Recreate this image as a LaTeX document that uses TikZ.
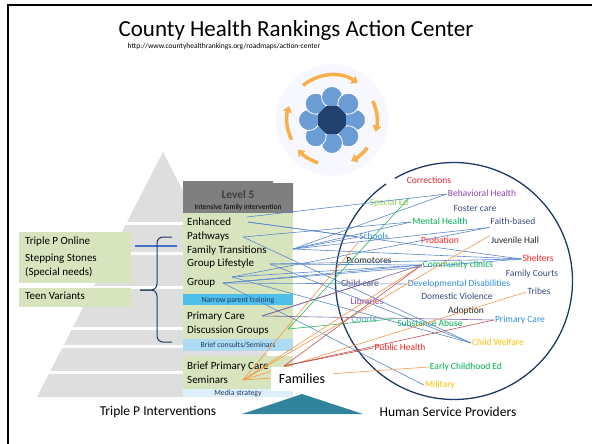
\documentclass[tikz,border=0pt]{standalone}
\usepackage{fontspec}
\setmainfont{Carlito}
\usetikzlibrary{arrows.meta}

\definecolor{lvlgreen}{HTML}{D7E4BD}
\definecolor{hdgrey}{HTML}{7F7F7F}
\definecolor{pyrgrey}{HTML}{DEDEDE}
\definecolor{narrowblue}{HTML}{4FBFEA}
\definecolor{briefblue}{HTML}{ADDCF2}
\definecolor{mediablue}{HTML}{DDEFF8}
\definecolor{navy}{HTML}{1F3864}
\definecolor{brblue}{HTML}{4472C4}
\definecolor{fteal}{HTML}{31849B}
\definecolor{lnblue}{HTML}{5B87CB}
\definecolor{lnpurple}{HTML}{8064A2}
\definecolor{lngreen}{HTML}{2DBA5A}
\definecolor{lnorange}{HTML}{F79646}
\definecolor{lnred}{HTML}{C0504D}
\definecolor{cred}{HTML}{FF1F1F}
\definecolor{cdred}{HTML}{E0262B}
\definecolor{cpurple}{HTML}{8E44AD}
\definecolor{clgreen}{HTML}{92D050}
\definecolor{cgreen}{HTML}{00B050}
\definecolor{cslate}{HTML}{3B4B7B}
\definecolor{cblue}{HTML}{2F8FD8}
\definecolor{cdark}{HTML}{262626}
\definecolor{cplum}{HTML}{5E4B6E}
\definecolor{cteal}{HTML}{4BACC6}
\definecolor{cgold}{HTML}{FFC000}
\definecolor{acorange}{HTML}{F7B04A}
\definecolor{acblue}{HTML}{6C9CD4}
\definecolor{acdark}{HTML}{22406E}

\begin{document}
\begin{tikzpicture}[x=1pt,y=-1pt,
  prov/.style={font=\fontsize{9.5}{10}\selectfont, inner sep=1pt, text height=6.5pt, text depth=2pt},
  lvl/.style={font=\fontsize{11}{12}\selectfont, anchor=west, inner sep=0pt, text height=7.5pt, text depth=2.5pt},
  small/.style={font=\fontsize{7.8}{8}\selectfont, text=navy, inner sep=0pt},
  link/.style={line width=0.6pt}]
  \useasboundingbox (0,0) rectangle (592,444);
  \newcommand{\acx}{332}
  \newcommand{\acy}{120}

  \draw[line width=2.5pt] (8,446) -- (8,5) -- (594,5);

  \node (title) at (296,30) {\fontsize{23}{24}\selectfont County Health Rankings Action Center};
  \node (url) at (224,47) {\fontsize{7.5}{8}\selectfont http://www.countyhealthrankings.org/roadmaps/action-center};

  % action center graphic
  \fill[blue!3] (\acx,\acy) circle (56);
  \foreach \a/\b in {-130/-55, -25/15, 38/65, 108/139, -206/-162}
    \draw[acorange, line width=3.5pt, -{Triangle[length=6pt,width=9pt]}]
      ([shift={(\a:45)}]\acx,\acy) arc (\a:\b:45);
  \foreach \a in {0,45,...,315}
    \fill[acblue, draw=white, line width=0.8pt] ([shift={(\a:23)}]\acx,\acy) circle (10.5);
  \fill[acdark] ([shift={(22.5:15)}]\acx,\acy)
    \foreach \a in {67.5,112.5,...,337.5} { -- ([shift={(\a:15)}]\acx,\acy) } -- cycle;

  % pyramid
  \fill[pyrgrey] (163,152) -- (289,397) -- (37,397) -- cycle;
  \foreach \y in {222,252,286,327,345,371}
    \fill[white] (30,\y) rectangle (295,\y+3);

  % left boxes and brace
  \fill[lvlgreen] (19,232) rectangle (131,283);
  \fill[lvlgreen] (19,288) rectangle (131,307);
  \node[lvl] (tpo) at (25,242) {Triple P Online};
  \node[lvl] (ss) at (25,259) {Stepping Stones};
  \node[lvl] (sn) at (25,273) {(Special needs)};
  \node[lvl] (teen) at (25,297) {Teen Variants};
  \coordinate (br-in) at (135,246);
  \coordinate (br-out) at (177,246);
  \draw[brblue, line width=1.2pt] (br-in) -- (br-out);
  \draw[navy, line width=1pt, rounded corners=6pt] (172,237) -- (157,237) -- (157,290) -- (140,290);
  \draw[navy, line width=1pt, rounded corners=6pt] (140,290) -- (157,290) -- (157,342) -- (172,342);

  % level column
  \fill[hdgrey] (183,181) -- (273,181) -- (273,183) -- (293,183) -- (293,213) -- (183,213) -- cycle;
  \node[font=\bfseries\fontsize{11.5}{12}\selectfont, text=black!75] (lvl5) at (238,195) {Level 5};
  \node[small, text=black, font=\fontsize{7.5}{8}\selectfont] (ifi) at (238,207) {Intensive family intervention};
  \fill[lvlgreen] (183,213) rectangle (293,294);
  \fill[narrowblue] (183,294) rectangle (293,305);
  \fill[lvlgreen] (183,305) rectangle (293,339);
  \fill[briefblue] (183,339) rectangle (293,351);
  \fill[mediablue] (183,389) rectangle (293,397);
  \node[small] (media) at (238,393) {Media strategy};
  \fill[lvlgreen] (183,356) rectangle (293,389);
  \node[small] (npt) at (238,300) {Narrow parent training};
  \node[small] (bcs) at (238,345) {Brief consults/Seminars};
  \foreach \n/\y/\t in {enh/223/Enhanced, path/237/Pathways, famt/251/Family Transitions,
      life/264/Group Lifestyle, grp/283/Group, pcare/317/Primary Care,
      disc/331/Discussion Groups, bpc/367/Brief Primary Care, sem/381/Seminars}
    \node[lvl] (l-\n) at (187,\y) {\t};

  % providers
  \draw[navy, line width=1.3pt] ([shift={(-125:118.5)}]454,281) arc (-125:-480:118.5);
  \foreach \n/\x/\y/\c/\t in {
      corr/429/181/cdred/Corrections, bh/482/194/cpurple/Behavioral Health,
      spec/389/203/clgreen/Special Ed, fost/475/209/cslate/Foster care,
      mh/440/222/cgreen/Mental Health, faith/513/222/cslate/Faith-based,
      sch/374/237/cblue/Schools, prob/440/241/cred/Probation,
      jh/515/241/cdark/Juvenile Hall, prom/369/261/cdark/Promotores,
      shel/538/259/cred/Shelters, cc/458/265/cgreen/Community clinics,
      fc/532/274/cslate/Family Courts, chc/360/284/cplum/Child care,
      dd/459/284/cblue/Developmental Disabilities, trib/539/292/cslate/Tribes,
      dv/457/297/cslate/Domestic Violence, lib/367/302/cpurple/Libraries,
      adop/466/311/cdark/Adoption, pc/520/320/cblue/Primary Care,
      crt/364/320/cteal/Courts, sa/430/324/cgreen/Substance Abuse,
      cw/498/343/cgold/Child Welfare, ph/400/348/cred/Public Health,
      ece/466/367/cgreen/Early Childhood Ed, mil/440/385/cgold/Military}
    \node[prov, text=\c] (h-\n) at (\x,\y) {\t};

  % connectors
  \coordinate (t-int) at (247,217);
  \coordinate (t-enh) at (248,222);
  \coordinate (t-path) at (243,237);
  \coordinate (t-fam) at (293,249);
  \coordinate (t-life) at (270,264);
  \coordinate (t-grp) at (223,283);
  \coordinate (t-grp2) at (232,277);
  \coordinate (t-pcd) at (262,316);
  \coordinate (t-pcd2) at (288,329);
  \coordinate (t-bpc) at (243,380);
  \coordinate (t-bpc2) at (284,366);
  \foreach \from/\to/\c in {
      t-int/h-bh.west/lnblue, t-enh/h-shel.west/lnblue, t-enh/h-sch.west/lnblue,
      t-path/h-mh.west/lnblue, t-path/h-cw.west/lnblue,
      t-fam/h-bh.west/lnblue, t-fam/h-mh.west/lnblue, t-fam/h-shel.west/lnblue,
      t-fam/h-sch.west/lnblue, t-fam/h-faith.south west/lnblue,
      t-life/h-cc.west/lnblue, t-life/h-shel.west/lnblue, t-life/h-cw.west/lnblue,
      t-grp/h-dd.west/lnblue, t-grp/h-mil.west/lnblue, t-grp/h-shel.west/lnblue,
      t-grp/h-cc.west/lnblue,
      t-grp2/h-cc.west/lnblue, t-grp2/h-cw.west/lnblue, t-grp2/h-faith.south west/lnblue,
      t-pcd/h-cc.west/lnpurple, t-pcd/h-chc.north east/lnpurple, t-pcd/h-pc.west/lnpurple,
      t-pcd2/h-spec.north east/lngreen, t-pcd2/h-sa.north west/lngreen,
      t-bpc/h-sch.south west/lnorange, t-bpc/h-cc.west/lnorange,
      t-bpc/h-jh.north west/lnorange, t-bpc/h-trib.west/lnorange,
      t-bpc/h-ece.west/lnorange,
      t-bpc2/h-cc.west/lnred, t-bpc2/h-ph.west/lnred, t-bpc2/h-pc.west/lnred}
    \draw[link, \c] (\from) -- (\to);

  % bottom
  \node[fill=white, inner sep=0pt, minimum width=62pt, minimum height=24pt,
    font=\fontsize{14}{15}\selectfont] (fam) at (302,379) {Families};
  \fill[fteal] (242,414) -- (302,394) -- (363,414) -- cycle;
  \node[font=\fontsize{13.5}{14}\selectfont] (tpi) at (158,412) {Triple P Interventions};
  \node[font=\fontsize{13.5}{14}\selectfont] (hsp) at (448,412) {Human Service Providers};
\end{tikzpicture}
\end{document}
